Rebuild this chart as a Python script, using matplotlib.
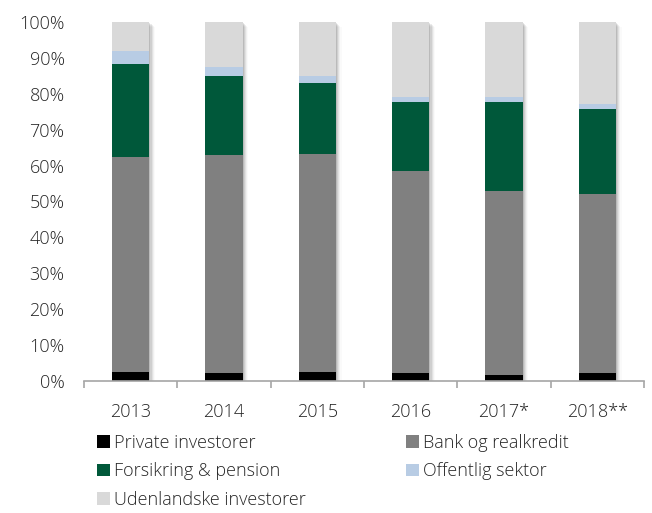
import matplotlib.pyplot as plt
import numpy as np
from matplotlib.patches import Patch

plt.rcParams['font.family'] = ['Open Sans', 'DejaVu Sans']
plt.rcParams['font.weight'] = 'light'

years = ["2013", "2014", "2015", "2016", "2017*", "2018**"]
private = [2.4, 2.2, 2.5, 2.2, 1.75, 2.1]
bank = [60.1, 60.7, 60.7, 56.2, 51.05, 50.0]
forsikring = [25.7, 22.1, 19.9, 19.2, 24.8, 23.7]
offentlig = [3.6, 2.5, 1.8, 1.5, 1.5, 1.4]
udenlandske = [8.2, 12.5, 15.1, 20.9, 20.9, 22.8]

names = ["Private investorer", "Bank og realkredit", "Forsikring & pension",
         "Offentlig sektor", "Udenlandske investorer"]
colors = ["#000000", "#808080", "#00583a", "#b8cce4", "#d9d9d9"]
series = [private, bank, forsikring, offentlig, udenlandske]

fig = plt.figure(figsize=(6.52, 5.13), dpi=100)
ax = fig.add_axes([84 / 652, 1 - 381 / 513, 560 / 652, 359 / 513])

x = np.arange(len(years))
w = 0.4
totals = np.sum(series, axis=0)

# soft shadow to the right of each bar
for i, a in enumerate([0.10, 0.08, 0.06, 0.04, 0.02]):
    off = 0.012 + i * 0.012
    ax.bar(x + off, totals, w, bottom=-0.4 - i * 0.25, color="black",
           alpha=a, linewidth=0, zorder=1)

bottom = np.zeros(len(years))
for vals, col in zip(series, colors):
    ax.bar(x, vals, w, bottom=bottom, color=col, linewidth=0, zorder=2)
    bottom += np.array(vals)

ax.set_xlim(-0.5, len(years) - 0.5)
ax.set_ylim(0, 100)
ax.set_yticks(np.arange(0, 101, 10))
ax.set_yticklabels([f"{v}%" for v in range(0, 101, 10)])

ax.set_xticks(np.arange(-0.5, len(years), 1))
ax.set_xticklabels([])
ax.set_xticks(x, minor=True)
ax.set_xticklabels(years, minor=True)
ax.tick_params(axis="x", which="major", length=5, width=1.2, color="#a6a6a6", direction="out")
ax.tick_params(axis="x", which="minor", length=0, pad=16, labelsize=13, labelcolor="#262626")
ax.tick_params(axis="y", length=0, pad=14, labelsize=13, labelcolor="#262626")

for s in ["top", "right", "left"]:
    ax.spines[s].set_visible(False)
ax.spines["bottom"].set_color("#a6a6a6")
ax.spines["bottom"].set_linewidth(1.2)
ax.spines["bottom"].set_zorder(3)

handles = [Patch(facecolor=c, edgecolor="none", label=n) for c, n in zip(colors, names)]
order = [0, 2, 4, 1, 3]
fig.legend([handles[i] for i in order], [names[i] for i in order],
           ncol=2, loc="upper left", bbox_to_anchor=(97 / 652, 1 - 434 / 513),
           frameon=False, fontsize=13, handlelength=0.7, handleheight=0.7,
           handletextpad=0.25, columnspacing=5.55, labelspacing=0.58,
           labelcolor="#262626", borderaxespad=0, borderpad=0)

fig.savefig("out.png", dpi=100)
